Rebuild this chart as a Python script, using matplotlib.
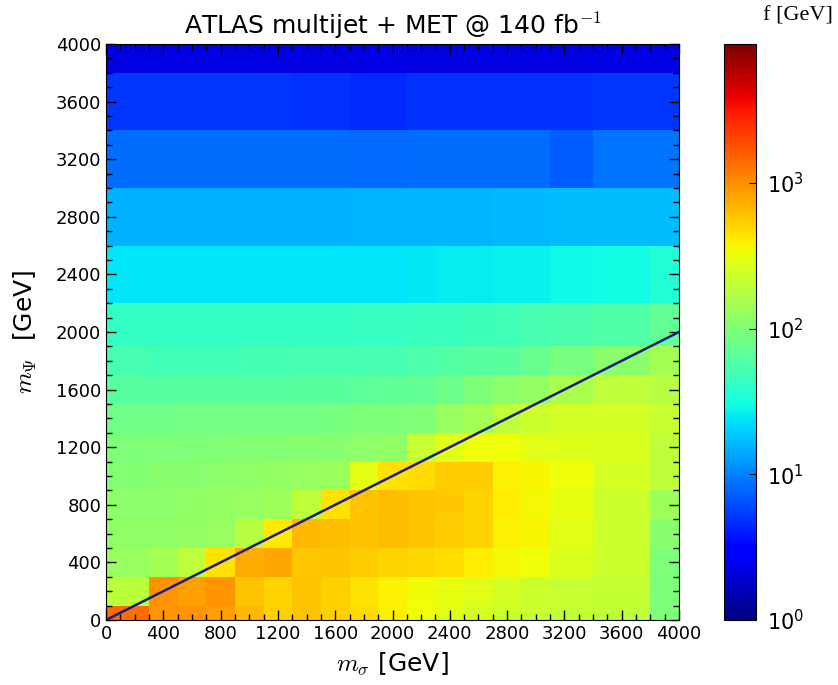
import numpy as np
import matplotlib
matplotlib.use("Agg")
import matplotlib.pyplot as plt
from matplotlib.colors import LogNorm
from matplotlib.ticker import MultipleLocator, LogLocator

plt.rcParams["mathtext.fontset"] = "cm"

# bin edges in GeV
m_sigma_edges = [0, 300, 500, 700, 900, 1100, 1300, 1500, 1700, 1900, 2100,
                 2300, 2500, 2700, 2900, 3100, 3400, 3800, 4000]
m_psi_edges = [0, 100, 300, 500, 700, 900, 1100, 1300, 1500, 1700, 1900,
               2200, 2600, 3000, 3400, 3800, 4000]

# f [GeV], one row per m_psi bin (bottom to top)
row_0 = [1380, 950, 950, 850, 650, 540, 600, 540, 480, 380, 340, 290, 250, 230, 220, 210, 200, 95]
row_1 = [190, 950, 850, 950, 600, 520, 600, 540, 450, 390, 350, 310, 290, 250, 230, 220, 210, 95]
row_2 = [130, 150, 200, 450, 770, 800, 575, 600, 560, 520, 500, 460, 400, 360, 330, 270, 230, 95]
row_3 = [120, 120, 125, 130, 180, 420, 650, 640, 610, 630, 590, 560, 510, 380, 370, 290, 230, 110]
row_4 = [115, 115, 120, 125, 130, 140, 200, 450, 620, 640, 600, 570, 510, 400, 360, 310, 230, 140]
row_5 = [105, 110, 112, 115, 120, 125, 130, 135, 300, 450, 480, 550, 550, 380, 370, 330, 250, 200]
row_6 = [95, 97, 98, 100, 102, 104, 106, 108, 115, 120, 220, 300, 340, 330, 290, 280, 270, 200]
row_7 = [85, 85, 86, 86, 87, 88, 88, 90, 95, 95, 100, 130, 150, 200, 230, 240, 240, 220]
row_8 = [64, 62, 62, 63, 63, 64, 65, 66, 68, 70, 72, 80, 95, 115, 125, 160, 195, 180]
row_9 = [52, 50, 50, 50, 51, 51, 52, 52, 53, 53, 56, 60, 62, 65, 75, 90, 110, 150]
row_10 = [42, 42, 42, 42, 42, 43, 43, 43, 44, 44, 45, 46, 48, 50, 52, 55, 58, 72]
row_11 = [24, 24, 24, 24, 24, 24, 24, 24, 24, 24, 25, 26, 26, 27, 27, 29, 30, 36]
row_12 = [15, 15, 15, 15, 15, 15, 15, 15, 15.5, 15.5, 16, 16, 16, 16.5, 16.5, 17, 17, 17]
row_13 = [8.3, 8.3, 8.3, 8.3, 8.3, 8.3, 8.2, 8.2, 8.0, 8.0, 8.2, 8.2, 8.3, 8.3, 8.3, 7.3, 9.0, 9.0]
row_14 = [5.0, 5.0, 5.0, 5.0, 5.0, 5.0, 4.9, 4.9, 4.6, 4.6, 4.8, 4.8, 4.8, 4.8, 4.9, 4.9, 5.0, 5.0]
row_15 = [2.2] * 18

f_values = np.array([row_0, row_1, row_2, row_3, row_4, row_5, row_6, row_7,
                     row_8, row_9, row_10, row_11, row_12, row_13, row_14, row_15])

fig = plt.figure(figsize=(8.38, 6.85), dpi=100)
ax = fig.add_axes([106 / 838, 65 / 685, 573 / 838, 576 / 685])
cax = fig.add_axes([724 / 838, 65 / 685, 32 / 838, 576 / 685])

mesh = ax.pcolormesh(m_sigma_edges, m_psi_edges, f_values, cmap="jet",
                     norm=LogNorm(vmin=1, vmax=9000), shading="flat")

# m_psi = m_sigma / 2
ax.plot([0, 4000], [0, 2000], color="#1c1c80", lw=1.8)

ax.set_xlim(0, 4000)
ax.set_ylim(0, 4000)
for axis in (ax.xaxis, ax.yaxis):
    axis.set_major_locator(MultipleLocator(400))
    axis.set_minor_locator(MultipleLocator(100))
ax.tick_params(which="both", direction="in", top=True, right=True, labelsize=13)
ax.tick_params(which="major", length=7, width=1)
ax.tick_params(which="minor", length=4, width=1)

ax.set_title(r"ATLAS multijet + MET @ 140 fb$^{-1}$", fontsize=18, pad=7)
ax.set_xlabel(r"$m_\sigma$ [GeV]", fontsize=18, labelpad=5)
ax.set_ylabel(r"$m_\Psi$  [GeV]", fontsize=18, labelpad=12)

cb = fig.colorbar(mesh, cax=cax)
cb.locator = LogLocator(base=10)
cb.update_ticks()
cax.minorticks_off()
cax.tick_params(direction="in", length=5, labelsize=15, pad=8)
fig.text(763 / 838, 1 - 16 / 685, "f [GeV]", family="Liberation Serif",
         fontsize=16, ha="left", va="center")

fig.savefig("out.png", dpi=100)
